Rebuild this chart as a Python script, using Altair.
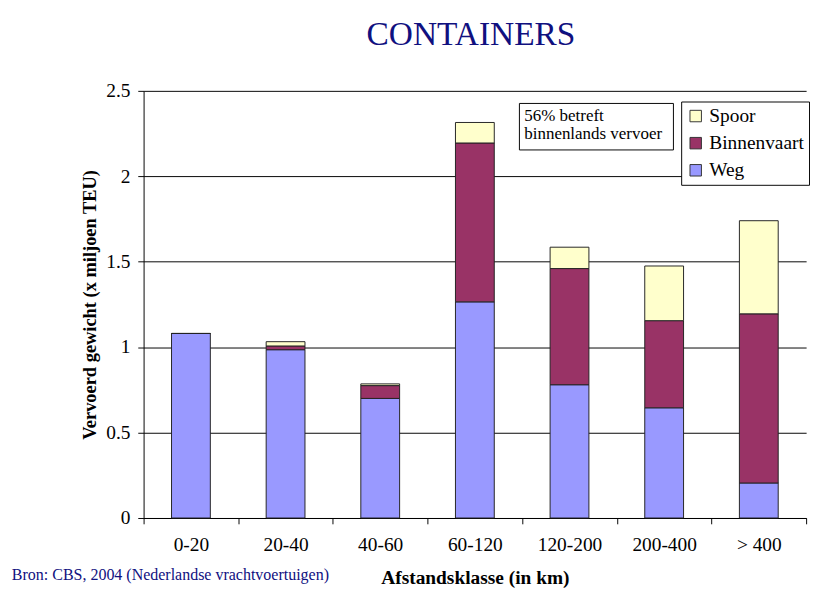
import altair as alt
import pandas as pd

categories = ["0-20", "20-40", "40-60", "60-120", "120-200", "200-400", "> 400"]
weg = [1.08, 0.985, 0.70, 1.265, 0.78, 0.645, 0.205]
binnenvaart = [0.0, 0.022, 0.075, 0.93, 0.68, 0.51, 0.99]
spoor = [0.0, 0.025, 0.01, 0.12, 0.125, 0.32, 0.545]
series = ["Spoor", "Binnenvaart", "Weg"]
colors = ["#FFFFCC", "#993366", "#9999FF"]
y_ticks = [0, 0.5, 1, 1.5, 2, 2.5]

rows = []
for i, c in enumerate(categories):
    rows.append({"cat": c, "serie": "Weg", "val": weg[i], "ord": 0})
    rows.append({"cat": c, "serie": "Binnenvaart", "val": binnenvaart[i], "ord": 1})
    rows.append({"cat": c, "serie": "Spoor", "val": spoor[i], "ord": 2})
df = pd.DataFrame(rows)

SERIF = "Liberation Serif"
NAVY = "#10107F"
AX = dict(domainColor="black", tickColor="black", labelColor="black", titleColor="black",
          labelFont=SERIF, titleFont=SERIF)

bars = alt.Chart(df).mark_bar(stroke="#222222", strokeWidth=1,
                              width=alt.RelativeBandSize(0.41)).encode(
    x=alt.X("cat:N", sort=categories,
            scale=alt.Scale(paddingInner=0, paddingOuter=0),
            axis=alt.Axis(title="Afstandsklasse (in km)", labelAngle=0, tickBand="extent",
                          tickSize=6, labelPadding=12, titlePadding=14, grid=False,
                          labelFontSize=20, titleFontSize=20, titleFontWeight="bold", **AX)),
    y=alt.Y("val:Q", stack="zero",
            scale=alt.Scale(domain=[0, 2.5], nice=False),
            axis=alt.Axis(title="Vervoerd gewicht (x miljoen TEU)", values=y_ticks,
                          labelExpr="datum.value", tickSize=6, labelPadding=8,
                          titlePadding=7, labelFontSize=20, titleFontSize=19,
                          titleFontWeight="bold", grid=True, gridColor="black",
                          gridWidth=1, **AX)),
    color=alt.Color("serie:N", scale=alt.Scale(domain=series, range=colors),
                    legend=alt.Legend(title=None, orient="none", legendX=555, legendY=11,
                                      fillColor="white", strokeColor="black", padding=5,
                                      symbolType="square", symbolSize=140,
                                      symbolStrokeColor="#333333", symbolStrokeWidth=1,
                                      labelFont=SERIF, labelFontSize=20, labelColor="black",
                                      rowPadding=8, symbolOpacity=1)),
    order=alt.Order("ord:Q", sort="ascending"),
)

one = pd.DataFrame({"a": [0]})
box = alt.Chart(one).mark_rect(fill="white", stroke="black", strokeWidth=1).encode(
    x=alt.value(388), x2=alt.value(547), y=alt.value(13), y2=alt.value(61)
)
note = alt.Chart(one).mark_text(
    align="left", baseline="top", font=SERIF, fontSize=17.5, color="black",
    lineBreak="\n", lineHeight=19
).encode(x=alt.value(393), y=alt.value(17), text=alt.value("56% betreft\nbinnenlands vervoer"))

source = alt.Chart(one).mark_text(
    align="left", baseline="middle", font=SERIF, fontSize=16.5, color=NAVY
).encode(x=alt.value(-136), y=alt.value(500),
         text=alt.value("Bron: CBS, 2004 (Nederlandse vrachtvoertuigen)"))

chart = alt.layer(bars, box, note, source).properties(
    width=684, height=441,
    padding={"left": 4, "top": 0, "right": 0, "bottom": 0},
    background="white",
    title=alt.TitleParams("CONTAINERS", font=SERIF, fontSize=34.5, fontWeight="normal",
                          color=NAVY, anchor="middle", offset=30, dx=-4),
).configure_view(stroke=None)

chart.save("out.html", embed_options={"renderer": "svg", "actions": False})
